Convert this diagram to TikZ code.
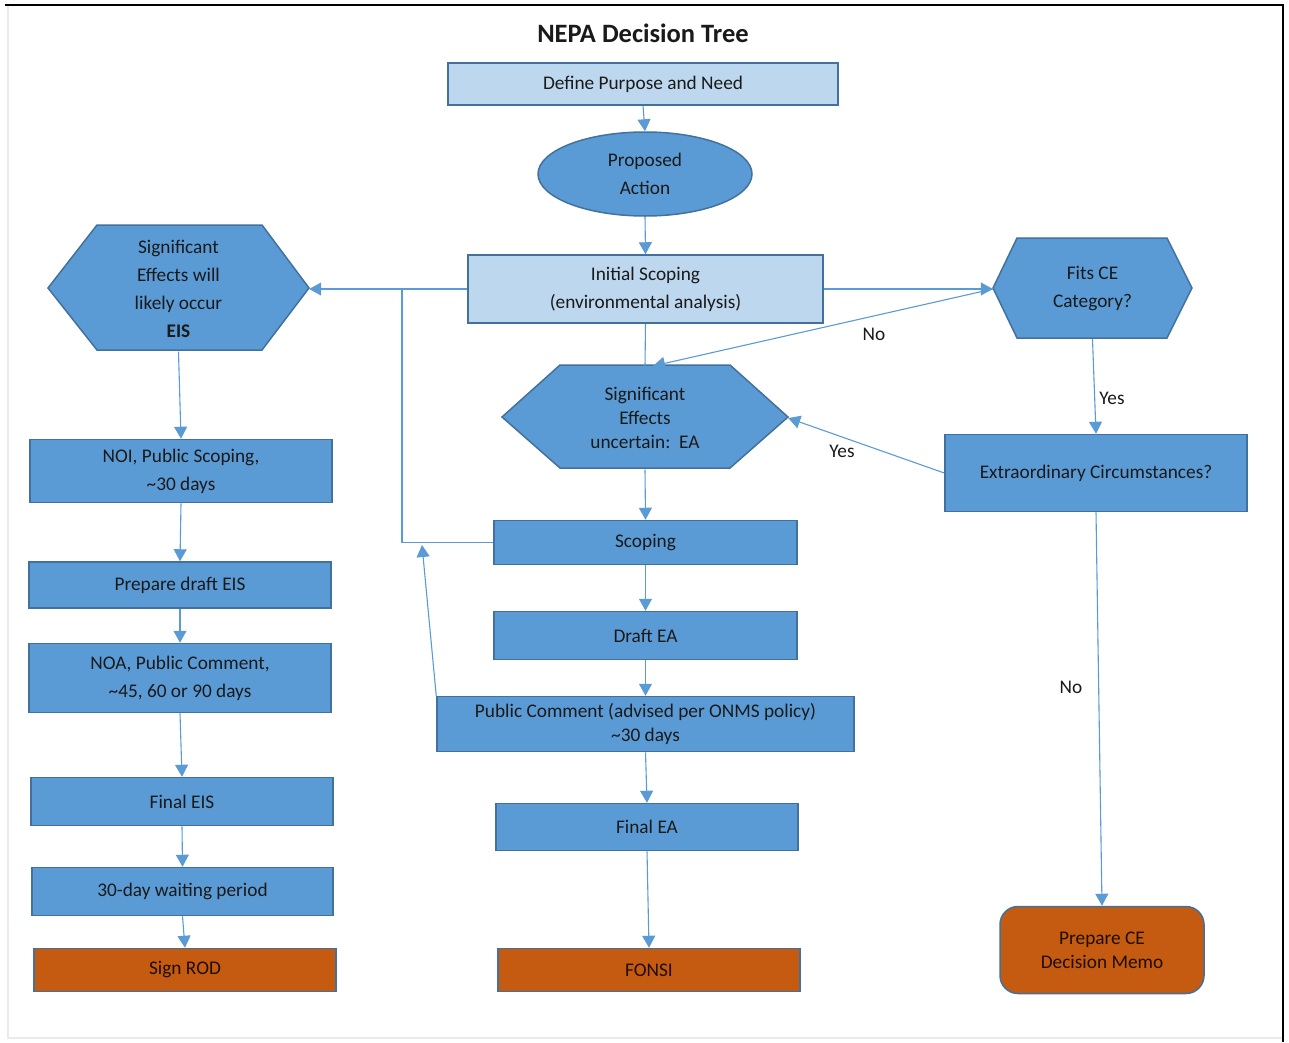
\documentclass[tikz,border=0pt]{standalone}
\usepackage{fontspec}
\setmainfont{Carlito}
\usetikzlibrary{arrows.meta,shapes.geometric}
\definecolor{midblue}{HTML}{5B9BD5}
\definecolor{lightblue}{HTML}{BDD7EE}
\definecolor{edgeblue}{HTML}{41719C}
\definecolor{lineblue}{HTML}{5B9BD5}
\definecolor{orangefill}{HTML}{C55A11}
\definecolor{txt}{HTML}{1A1A1A}
\tikzset{
  fs/.style={font=\fontsize{19.3}{28}\selectfont},
  fss/.style={font=\fontsize{19.3}{24}\selectfont},
  box/.style={draw=edgeblue, line width=1.5pt, fill=midblue, text=txt, align=center, inner sep=0pt, fs},
  lbox/.style={box, fill=lightblue},
  obox/.style={box, fill=orangefill, text=black!85!orangefill},
  hexanchor/.style={inner sep=0pt, text=txt, align=center, fs},
  hexdraw/.style={draw=edgeblue, line width=1.5pt, fill=midblue},
  conn/.style={draw=lineblue, line width=1.1pt, -{Triangle[length=12pt,width=13pt]}},
  plain/.style={draw=lineblue, line width=1.1pt},
  lbl/.style={text=txt, fs, inner sep=0pt},
}
\begin{document}
\begin{tikzpicture}[x=1pt,y=-1pt]
\useasboundingbox (0,0) rectangle (1289,1042);
\fill[white] (0,0) rectangle (1289,1042);
% frame
\draw[black!8, line width=1.2pt] (8,6) -- (8,1038) -- (1282,1038);
\draw[black, line width=1.5pt] (5,5) -- (1283,5) -- (1283,1042);

% title
\node[font=\fontsize{26.5}{30}\selectfont\bfseries, text=txt] (title) at (643,33) {NEPA Decision Tree};

% hexagons (drawn shapes)
\draw[hexdraw] (48,288) -- (97,225) -- (262,225) -- (309,288) -- (262,350) -- (97,350) -- cycle;
\draw[hexdraw] (993,288) -- (1017,238) -- (1167,238) -- (1192,288) -- (1167,338) -- (1017,338) -- cycle;
\draw[hexdraw] (502,417) -- (560,365) -- (730,365) -- (788,417) -- (730,468) -- (560,468) -- cycle;

% hexagon anchor nodes with text
\node[hexanchor, minimum width=261pt, minimum height=125pt] (eis) at (178.5,289) {Significant\\Effects will\\likely occur\\\textbf{EIS}};
\node[hexanchor, minimum width=199pt, minimum height=100pt] (fits) at (1092.5,289) {Fits CE\\Category?};
\node[hexanchor, minimum width=286pt, minimum height=103pt, fss] (midhex) at (645,418) {Significant\\Effects\\uncertain:~~EA};

% boxes
\node[lbox, minimum width=390pt, minimum height=42pt] (define) at (643,84) {Define Purpose and Need};
\node[draw=edgeblue, line width=1.5pt, fill=midblue, ellipse, inner sep=0pt, minimum width=214pt, minimum height=84pt, text=txt, align=center, fs] (prop) at (645,174) {Proposed\\Action};
\node[lbox, minimum width=355pt, minimum height=68pt] (init) at (645.5,289) {Initial Scoping\\(environmental analysis)};
\node[box, minimum width=302pt, minimum height=77pt] (extra) at (1096,473) {Extraordinary Circumstances?};

\node[box, minimum width=302pt, minimum height=63pt] (noi) at (181,471) {NOI, Public Scoping,\\\textasciitilde30 days};
\node[box, minimum width=302pt, minimum height=46pt] (deis) at (180,585) {Prepare draft EIS};
\node[box, minimum width=302pt, minimum height=69pt] (noa) at (180,678) {NOA, Public Comment,\\\textasciitilde45, 60 or 90 days};
\node[box, minimum width=302pt, minimum height=48pt] (feis) at (182,801.5) {Final EIS};
\node[box, minimum width=301pt, minimum height=48pt] (wait) at (182.5,891.5) {30-day waiting period};
\node[obox, minimum width=302pt, minimum height=43pt] (rod) at (185,970) {Sign ROD};

\node[box, minimum width=303pt, minimum height=44pt] (scoping) at (645.5,542.5) {Scoping};
\node[box, minimum width=303pt, minimum height=48pt] (dea) at (645.5,635.5) {Draft EA};
\node[box, minimum width=417pt, minimum height=55pt, fss] (pubc) at (645.5,724) {Public Comment (advised per ONMS policy)\\\textasciitilde30 days};
\node[box, minimum width=302pt, minimum height=47pt] (fea) at (647,827) {Final EA};
\node[obox, minimum width=302pt, minimum height=43pt] (fonsi) at (649,970) {FONSI};
\node[obox, fss, rounded corners=18pt, minimum width=204pt, minimum height=87pt] (memo) at (1102,950) {Prepare CE\\Decision Memo};

% helper coordinates
\coordinate (jt) at (402,289);
\coordinate (jb) at (402,542.5);
\coordinate (ja) at (422,545);
\coordinate (midtop) at (653,366);

% connectors
\draw[conn] (define.south) -- (prop.north);
\draw[conn] (prop.south) -- (init.north);
\draw[conn] (init.west) -- (eis.east);
\draw[conn] (init.east) -- (fits.west);
\draw[plain] (init.south) -- (midhex.north);
\draw[conn] (fits.west) -- (midtop);
\draw[conn] (fits.south) -- (extra.north);
\draw[conn] (extra.west) -- (midhex.east);
\draw[conn] (extra.south) -- (memo.north);
\draw[conn] (midhex.south) -- (scoping.north);
\draw[plain] (scoping.west) -- (jb) -- (jt);
\draw[conn] (pubc.north west) -- (ja);
\draw[conn] (scoping.south) -- (dea.north);
\draw[conn] (dea.south) -- (pubc.north);
\draw[conn] (pubc.south) -- (fea.north);
\draw[conn] (fea.south) -- (fonsi.north);
\draw[conn] (eis.south) -- (noi.north);
\draw[conn] (noi.south) -- (deis.north);
\draw[conn] (deis.south) -- (noa.north);
\draw[conn] (noa.south) -- (feis.north);
\draw[conn] (feis.south) -- (wait.north);
\draw[conn] (wait.south) -- (rod.north);

% labels
\node[lbl] (lno1) at (874,334) {No};
\node[lbl] (lyes1) at (1112,398) {Yes};
\node[lbl] (lyes2) at (842,451) {Yes};
\node[lbl] (lno2) at (1071,687) {No};
\end{tikzpicture}
\end{document}
